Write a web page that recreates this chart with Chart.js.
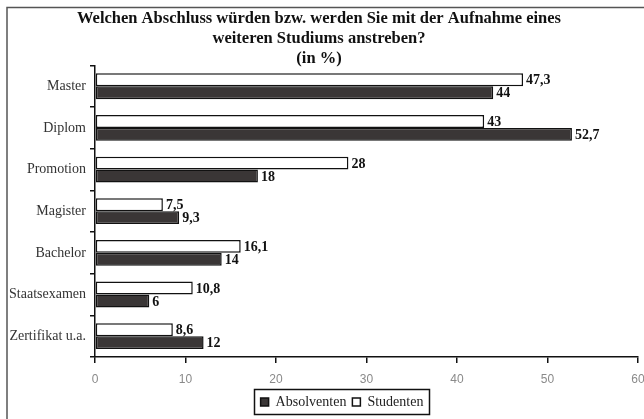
<!DOCTYPE html>
<html>
<head>
<meta charset="utf-8">
<script src="https://cdn.jsdelivr.net/npm/chart.js@4/dist/chart.umd.min.js"></script>
<style>
  html, body { margin: 0; padding: 0; background: #fff; }
  #wrap { position: relative; width: 644px; height: 419px; }
</style>
</head>
<body>
<div id="wrap"><canvas id="c" width="644" height="419"></canvas></div>
<script>
const categories = ['Master', 'Diplom', 'Promotion', 'Magister', 'Bachelor', 'Staatsexamen', 'Zertifikat u.a.'];
const studenten = [47.3, 43, 28, 7.5, 16.1, 10.8, 8.6];
const absolventen = [44, 52.7, 18, 9.3, 14, 6, 12];
const xTicks = [0, 10, 20, 30, 40, 50, 60];
const titleLines = ['Welchen Abschluss würden bzw. werden Sie mit der Aufnahme eines', 'weiteren Studiums anstreben?', '(in %)'];

const fmt = v => String(v).replace('.', ',');

const framePlugin = {
  id: 'frame',
  beforeDraw(chart) {
    const ctx = chart.ctx;
    ctx.save();
    ctx.fillStyle = '#fff';
    ctx.fillRect(0, 0, chart.width, chart.height);
    ctx.strokeStyle = '#555';
    ctx.lineWidth = 1.5;
    ctx.beginPath();
    ctx.moveTo(chart.width, 7.5);
    ctx.lineTo(7, 7.5);
    ctx.lineTo(7, chart.height);
    ctx.stroke();
    ctx.restore();
  }
};

const valueLabels = {
  id: 'valueLabels',
  afterDatasetsDraw(chart) {
    const ctx = chart.ctx;
    ctx.save();
    ctx.font = 'bold 14px "Liberation Serif", serif';
    ctx.fillStyle = '#111';
    ctx.textBaseline = 'middle';
    ctx.textAlign = 'left';
    chart.data.datasets.forEach((ds, di) => {
      const meta = chart.getDatasetMeta(di);
      meta.data.forEach((el, i) => {
        ctx.fillText(fmt(ds.data[i]), el.x + 3, el.y + 1);
      });
    });
    ctx.restore();
  }
};

const legendShift = {
  id: 'legendShift',
  afterLayout(chart) {
    const lg = chart.legend;
    if (lg) { lg.left += 23; lg.right += 23; }
  }
};

const legendBorder = {
  id: 'legendBorder',
  afterDraw(chart) {
    const lg = chart.legend;
    if (!lg || !lg.legendHitBoxes || !lg.legendHitBoxes.length) return;
    const hb = lg.legendHitBoxes;
    let l = Infinity, r = -Infinity, t = Infinity, b = -Infinity;
    hb.forEach(h => { l = Math.min(l, h.left); r = Math.max(r, h.left + h.width); t = Math.min(t, h.top); b = Math.max(b, h.top + h.height); });
    const ctx = chart.ctx;
    ctx.save();
    ctx.strokeStyle = '#111';
    ctx.lineWidth = 1.5;
    ctx.strokeRect(Math.round(l - 7) + 0.5, Math.round(t - 6) + 0.5, Math.round(r - l + 12), Math.round(b - t + 11));
    ctx.restore();
  }
};

new Chart(document.getElementById('c'), {
  type: 'bar',
  data: {
    labels: categories,
    datasets: [
      { label: 'Studenten', data: studenten, backgroundColor: '#ffffff', borderColor: '#111', borderWidth: 1.5, borderSkipped: false },
      { label: 'Absolventen', data: absolventen, backgroundColor: '#3a3636', borderColor: '#111', borderWidth: 1.5, borderSkipped: false }
    ]
  },
  options: {
    indexAxis: 'y',
    responsive: false,
    animation: false,
    devicePixelRatio: 1,
    categoryPercentage: 0.62,
    barPercentage: 1.0,
    layout: { padding: { left: 0, right: 6, top: 0, bottom: 0 } },
    plugins: {
      title: {
        display: true,
        text: titleLines,
        color: '#111',
        font: { family: '"Liberation Serif", serif', size: 16.5, weight: 'bold', lineHeight: 1.2 },
        padding: { top: 9, bottom: -3 }
      },
      legend: {
        display: true,
        position: 'bottom',
        reverse: true,
        labels: {
          boxWidth: 8,
          boxHeight: 8,
          padding: 6,
          color: '#222',
          font: { family: '"Liberation Serif", serif', size: 14 }
        }
      },
      tooltip: { enabled: false }
    },
    scales: {
      x: {
        type: 'linear',
        min: 0,
        max: 60,
        afterBuildTicks: s => { s.ticks = xTicks.map(v => ({ value: v })); },
        afterFit: s => { s.paddingLeft = 0; s.paddingRight = 0; s.height = 32; },
        grid: { drawOnChartArea: false, drawTicks: true, tickLength: 6, color: '#111', lineWidth: 1.5 },
        border: { display: true, color: '#111', width: 1.5 },
        ticks: { color: '#8a8a8a', padding: 9, font: { family: '"Liberation Sans", sans-serif', size: 12 }, maxRotation: 0 }
      },
      y: {
        afterFit: s => { s.width = 95; s.paddingTop = 0; s.paddingBottom = 0; },
        grid: { drawOnChartArea: false, drawTicks: true, tickLength: 5, color: '#111', lineWidth: 1.5, offset: true },
        border: { display: true, color: '#111', width: 1.5 },
        ticks: { color: '#333', padding: 4, font: { family: '"Liberation Serif", serif', size: 14 } }
      }
    }
  },
  plugins: [framePlugin, valueLabels, legendShift, legendBorder]
});
</script>
</body>
</html>
